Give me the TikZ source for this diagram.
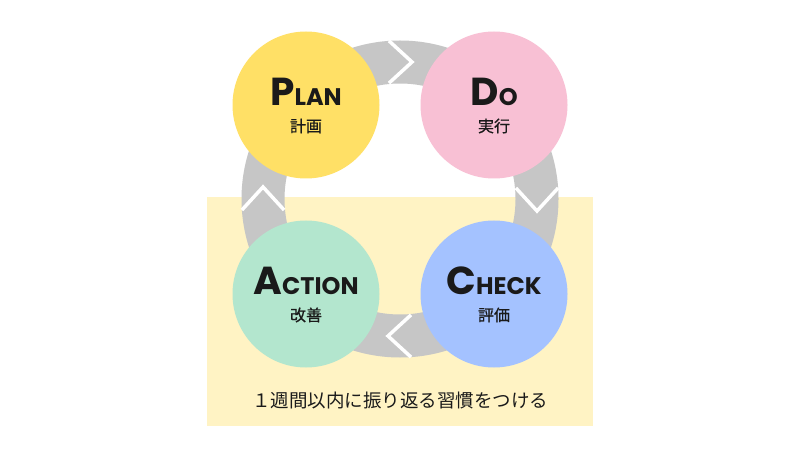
\documentclass[tikz,border=0pt]{standalone}
\usepackage{fontspec}
\setmainfont{Poppins}
\newfontfamily\jp{Noto Sans CJK JP}
\newfontfamily\jpm[FakeBold=0.8]{Noto Sans CJK JP}
\definecolor{cplan}{RGB}{255,224,102}
\definecolor{cdo}{RGB}{248,192,212}
\definecolor{cact}{RGB}{179,230,206}
\definecolor{cchk}{RGB}{164,194,255}
\definecolor{cbg}{RGB}{255,243,196}
\definecolor{cring}{RGB}{198,198,198}
\definecolor{ctxt}{RGB}{26,26,26}
\tikzset{
  phase/.style={circle, minimum size=147pt, inner sep=0pt, text=ctxt, align=center},
  chev/.style={draw=white, line width=3.5pt, line join=miter},
}
\newcommand{\bigsc}[2]{{\fontsize{39}{39}\selectfont\bfseries #1}{\fontsize{24}{24}\selectfont\bfseries #2}}
\newcommand{\sub}[1]{{\jpm\fontsize{16}{16}\selectfont #1}}
\begin{document}
\begin{tikzpicture}[x=1pt,y=1pt]
\useasboundingbox (0,0) rectangle (800,458);
\fill[white] (0,0) rectangle (800,458);
\fill[cbg] (207,32) rectangle (593,261);
\coordinate (c) at (400,259);
\draw[cring, line width=43pt] (c) circle (137);
\foreach \r in {0,-90,-180,-270}{
  \begin{scope}[shift={(c)}, rotate=\r]
    \draw[chev] (-11,158.1) -- (12,137) -- (-11,115.9);
  \end{scope}
}
\node[phase, fill=cplan] (plan) at (306,353) {};
\node[phase, fill=cdo] (do) at (494,353) {};
\node[phase, fill=cact] (act) at (306,164) {};
\node[phase, fill=cchk] (chk) at (494,164) {};
\foreach \n/\a/\b/\s in {plan/P/LAN/計画, do/D/O/実行, act/A/CTION/改善, chk/C/HECK/評価}{
  \node[text=ctxt, anchor=base] (\n t) at ([yshift=-1pt]\n.center) {\bigsc{\a}{\b}};
  \node[text=ctxt] (\n s) at ([yshift=-21pt]\n.center) {\sub{\s}};
}
\node[text=ctxt] (note) at (400,58) {\jp\fontsize{18.5}{18.5}\selectfont １週間以内に振り返る習慣をつける};
\end{tikzpicture}
\end{document}
